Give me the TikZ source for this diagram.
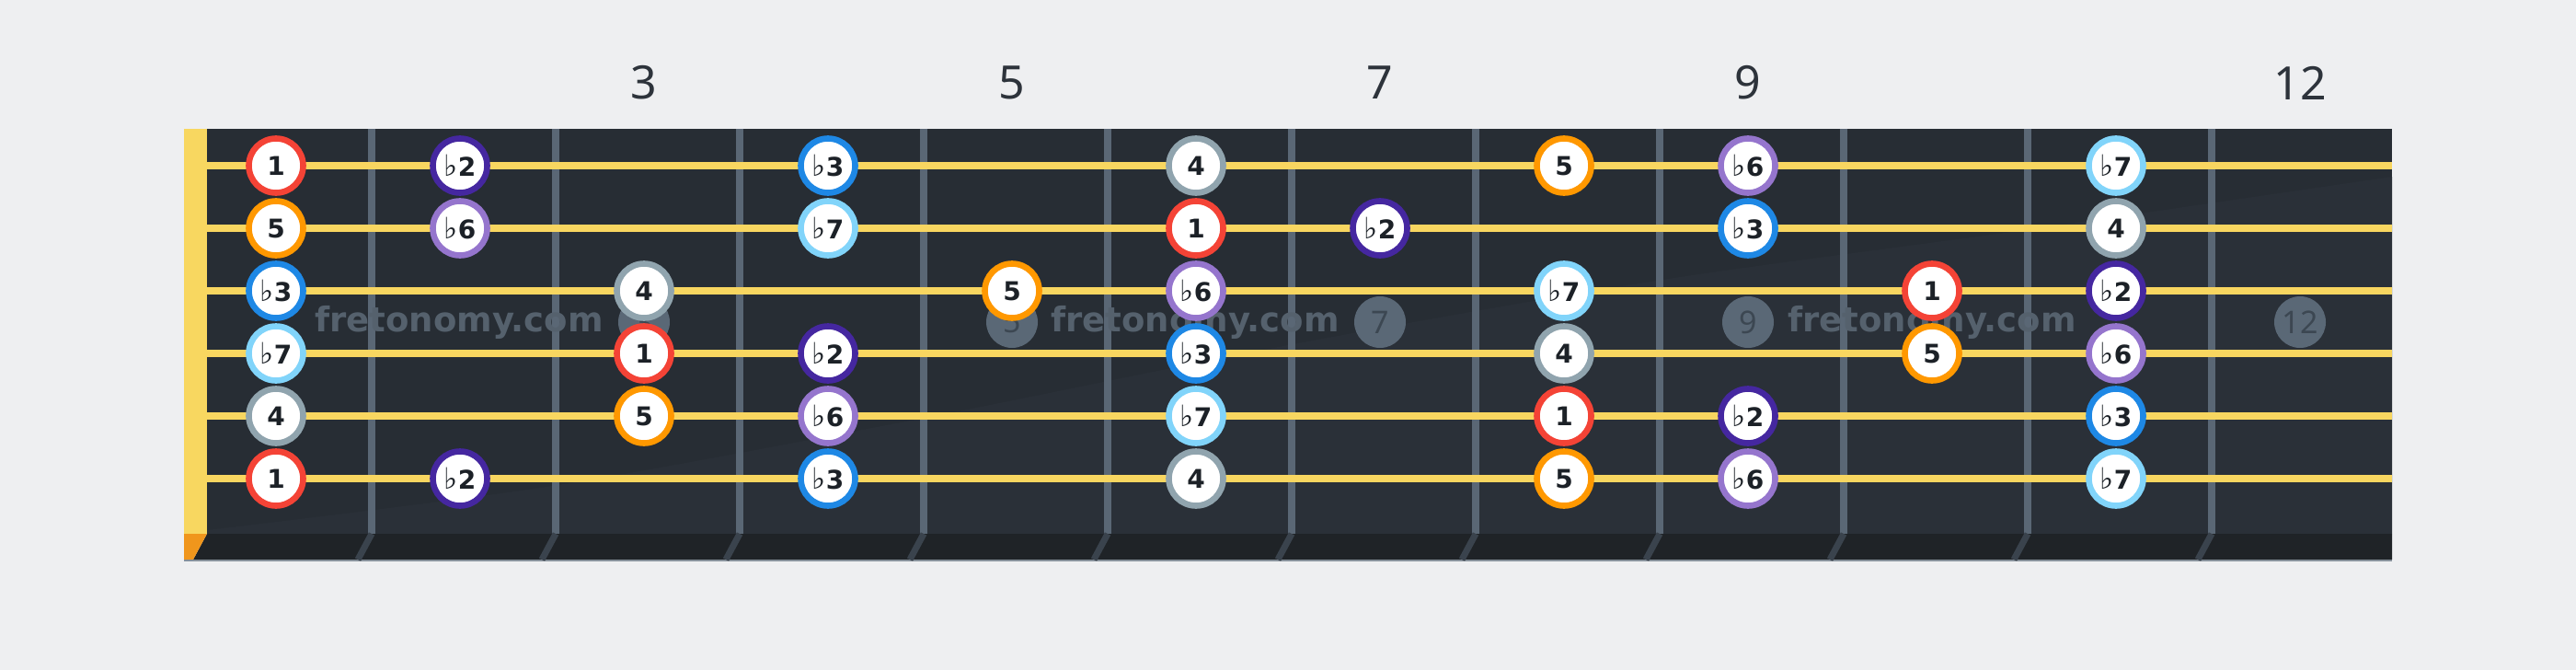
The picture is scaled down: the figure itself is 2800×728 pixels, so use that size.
\documentclass[tikz,border=0pt]{standalone}
\usepackage{fontspec}
\setmainfont{DejaVu Sans}
\newfontfamily\notosans{Noto Sans}
\definecolor{bg}{HTML}{EEEFF1}
\definecolor{board}{HTML}{272D34}
\definecolor{boardlight}{HTML}{2A3038}
\definecolor{strip}{HTML}{1F2327}
\definecolor{nutc}{HTML}{F8D760}
\definecolor{nutside}{HTML}{F0961C}
\definecolor{fretc}{HTML}{5A6775}
\definecolor{fretside}{HTML}{3A434D}
\definecolor{stringc}{HTML}{F8D660}
\definecolor{markerc}{HTML}{5A6876}
\definecolor{markertext}{HTML}{3C4752}
\definecolor{wmark}{HTML}{55616D}
\definecolor{topnum}{HTML}{2D333B}
\definecolor{notetext}{HTML}{1C2127}
\definecolor{colr}{HTML}{F44336}
\definecolor{coli}{HTML}{4527A0}
\definecolor{colb}{HTML}{1E88E5}
\definecolor{colg}{HTML}{90A4AE}
\definecolor{colo}{HTML}{FF9800}
\definecolor{colp}{HTML}{9575CD}
\definecolor{coll}{HTML}{81D4FA}
\newcommand{\fl}{{\mdseries\fontsize{32}{32}\selectfont\char"266D}}
\tikzset{
  note/.style={circle, fill=white, line width=6.6pt, minimum size=59pt, inner sep=0pt,
    text=notetext, font=\fontsize{28}{28}\selectfont\bfseries},
  fretline/.style={fretc, line width=7.5pt},
  fretedge/.style={fretside, line width=7pt},
  stringline/.style={stringc, line width=7.5pt},
  marker/.style={circle, fill=markerc, minimum size=56pt, inner sep=0pt,
    text=markertext, font=\notosans\fontsize{34}{34}\selectfont},
  watermark/.style={text=wmark, font=\fontsize{37}{37}\selectfont\bfseries, inner sep=0pt},
  fretnum/.style={text=topnum, font=\notosans\fontsize{50}{50}\selectfont, inner sep=0pt}
}
\begin{document}
\begin{tikzpicture}[x=1pt,y=-1pt]
\useasboundingbox[fill=bg] (0,0) rectangle (2800,728);
% fretboard
\fill[board] (200,140) rectangle (2600,580);
\fill[boardlight] plot[smooth] coordinates {(225,576) (600,528) (1000,455) (1400,375) (1800,305) (2200,250) (2600,192)} -- (2600,580) -- (225,580) -- cycle;
% side strip
\fill[strip] (225,580) -- (2600,580) -- (2600,608) -- (210,608) -- cycle;
\fill[nutside] (200,580) -- (225,580) -- (210,608) -- (200,608) -- cycle;
\draw[fretc!70!bg, line width=1.5pt] (200,608.75) -- (2600,608.75);
% nut
\fill[nutc] (200,140) rectangle (225,580);
% frets
\foreach \k in {1,...,11}{
  \draw[fretline] ({404+200*(\k-1)},140) -- ({404+200*(\k-1)},580);
  \draw[fretedge] ({404+200*(\k-1)},580) -- ({389+200*(\k-1)},608);
}
% inlay markers
\foreach \f/\n in {3/3,5/5,7/7,9/9,12/12}
  \node[marker] (m\f) at ({300+200*(\f-1)},350) {\n};
% watermarks
\node[watermark] (w1) at (499,350) {fretonomy.com};
\node[watermark] (w2) at (1299,350) {fretonomy.com};
\node[watermark] (w3) at (2100,350) {fretonomy.com};
% strings
\foreach \s in {1,...,6}
  \draw[stringline] (225,{180+68*(\s-1)}) -- (2600,{180+68*(\s-1)});
% fret numbers
\foreach \f in {3,5,7,9,12}
  \node[fretnum] (t\f) at ({300+200*(\f-1)},90) {\f};
% notes
\foreach \s/\f/\c/\t in {
  1/1/r/1, 1/2/i/\fl2, 1/4/b/\fl3, 1/6/g/4, 1/8/o/5, 1/9/p/\fl6, 1/11/l/\fl7,
  2/1/o/5, 2/2/p/\fl6, 2/4/l/\fl7, 2/6/r/1, 2/7/i/\fl2, 2/9/b/\fl3, 2/11/g/4,
  3/1/b/\fl3, 3/3/g/4, 3/5/o/5, 3/6/p/\fl6, 3/8/l/\fl7, 3/10/r/1, 3/11/i/\fl2,
  4/1/l/\fl7, 4/3/r/1, 4/4/i/\fl2, 4/6/b/\fl3, 4/8/g/4, 4/10/o/5, 4/11/p/\fl6,
  5/1/g/4, 5/3/o/5, 5/4/p/\fl6, 5/6/l/\fl7, 5/8/r/1, 5/9/i/\fl2, 5/11/b/\fl3,
  6/1/r/1, 6/2/i/\fl2, 6/4/b/\fl3, 6/6/g/4, 6/8/o/5, 6/9/p/\fl6, 6/11/l/\fl7}
  \node[note, draw=col\c] (n\s-\f) at ({300+200*(\f-1)},{180+68*(\s-1)}) {\t};
\end{tikzpicture}
\end{document}
